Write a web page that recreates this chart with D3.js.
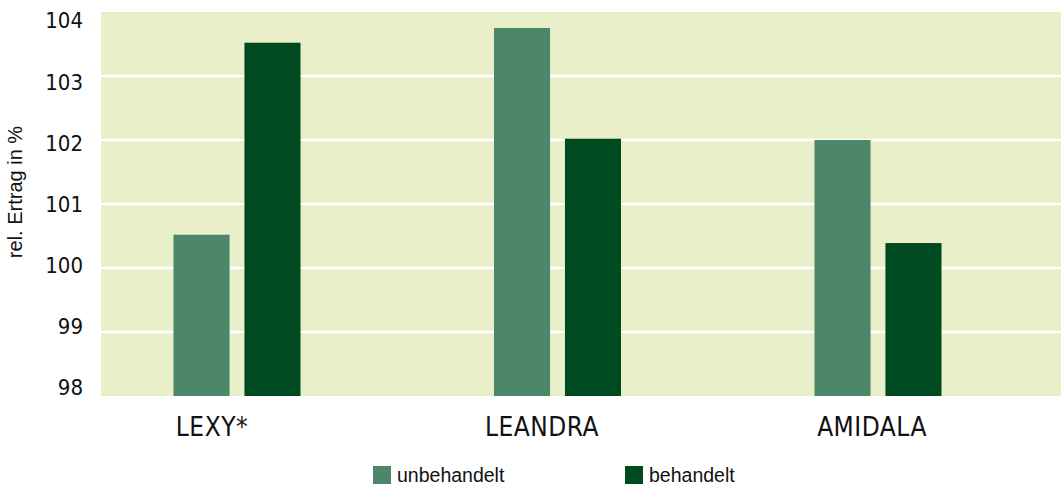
<!DOCTYPE html>
<html><head><meta charset="utf-8">
<script src="https://cdn.jsdelivr.net/npm/d3@7"></script>
<style>
html,body{margin:0;padding:0;background:#fff;}
svg{display:block;}
</style></head>
<body>
<svg id="c" width="1061" height="486"></svg>
<script>
const categories = ["LEXY*", "LEANDRA", "AMIDALA"];
const seriesNames = ["unbehandelt", "behandelt"];
const unbehandelt = [100.52, 103.75, 102.0];
const behandelt = [103.52, 102.02, 100.39];
const yTicks = [98, 99, 100, 101, 102, 103, 104];
const yTitle = "rel. Ertrag in %";

const colors = ["#4C8769", "#004A22"];
const narrow = "'Liberation Sans Narrow','DejaVu Sans Condensed',sans-serif";
const sans = "'Liberation Sans',Arial,sans-serif";

const svg = d3.select("#c");
const plot = {left: 101, right: 1061, top: 12, bottom: 396};

const y = d3.scaleLinear().domain([98, 104]).range([plot.bottom, plot.top]);
// tick labels sit on their own slightly compressed ladder in the reference
const yLab = d3.scaleLinear().domain([98, 104]).range([387, 20.5]);

const x0 = d3.scalePoint().domain(categories).range([237, 878]);
const xLabel = d3.scalePoint().domain(categories).range([212, 872]);
const groupW = 127;
const x1 = d3.scaleBand().domain(seriesNames).range([-groupW / 2, groupW / 2]).paddingInner(0.21);

// background
svg.append("rect").attr("x", plot.left).attr("y", plot.top)
  .attr("width", plot.right - plot.left).attr("height", plot.bottom - plot.top)
  .attr("fill", "#E8EFC9");

// grid lines
svg.append("g").selectAll("line").data(yTicks.filter(d => d > 98 && d < 104)).join("line")
  .attr("x1", plot.left).attr("x2", plot.right)
  .attr("y1", d => y(d)).attr("y2", d => y(d))
  .attr("stroke", "#fff").attr("stroke-width", 2.7);

// y tick labels
svg.append("g").selectAll("text").data(yTicks).join("text")
  .attr("x", 83).attr("y", d => yLab(d))
  .attr("dy", "0.36em")
  .attr("text-anchor", "end")
  .attr("font-family", narrow).attr("font-size", 22).attr("fill", "#111")
  .text(d => d);

// y title
svg.append("text")
  .attr("transform", `translate(22,${192}) rotate(-90)`)
  .attr("text-anchor", "middle")
  .attr("font-family", sans).attr("font-size", 20).attr("fill", "#111")
  .text(yTitle);

// bars
const rows = categories.map((c, i) => ({cat: c, vals: [unbehandelt[i], behandelt[i]]}));
const g = svg.append("g").selectAll("g").data(rows).join("g")
  .attr("transform", d => `translate(${x0(d.cat)},0)`);
g.selectAll("rect").data(d => d.vals.map((v, j) => ({s: seriesNames[j], v, j}))).join("rect")
  .attr("x", d => x1(d.s)).attr("width", x1.bandwidth())
  .attr("y", d => y(d.v)).attr("height", d => y(98) - y(d.v))
  .attr("fill", d => colors[d.j]);

// category labels
svg.append("g").selectAll("text").data(categories).join("text")
  .attr("x", d => xLabel(d)).attr("y", 436)
  .attr("text-anchor", "middle")
  .attr("font-family", narrow).attr("font-size", 26).attr("fill", "#111")
  .attr("letter-spacing", 0.5)
  .text(d => d);

// legend
const legX = [373, 625];
const leg = svg.append("g").selectAll("g").data(seriesNames).join("g")
  .attr("transform", (d, i) => `translate(${legX[i]},466)`);
leg.append("rect").attr("width", 18).attr("height", 18).attr("fill", (d, i) => colors[i]);
leg.append("text").attr("x", 24).attr("y", 16)
  .attr("font-family", sans).attr("font-size", 19.5).attr("fill", "#111")
  .text(d => d);
</script>
</body></html>
